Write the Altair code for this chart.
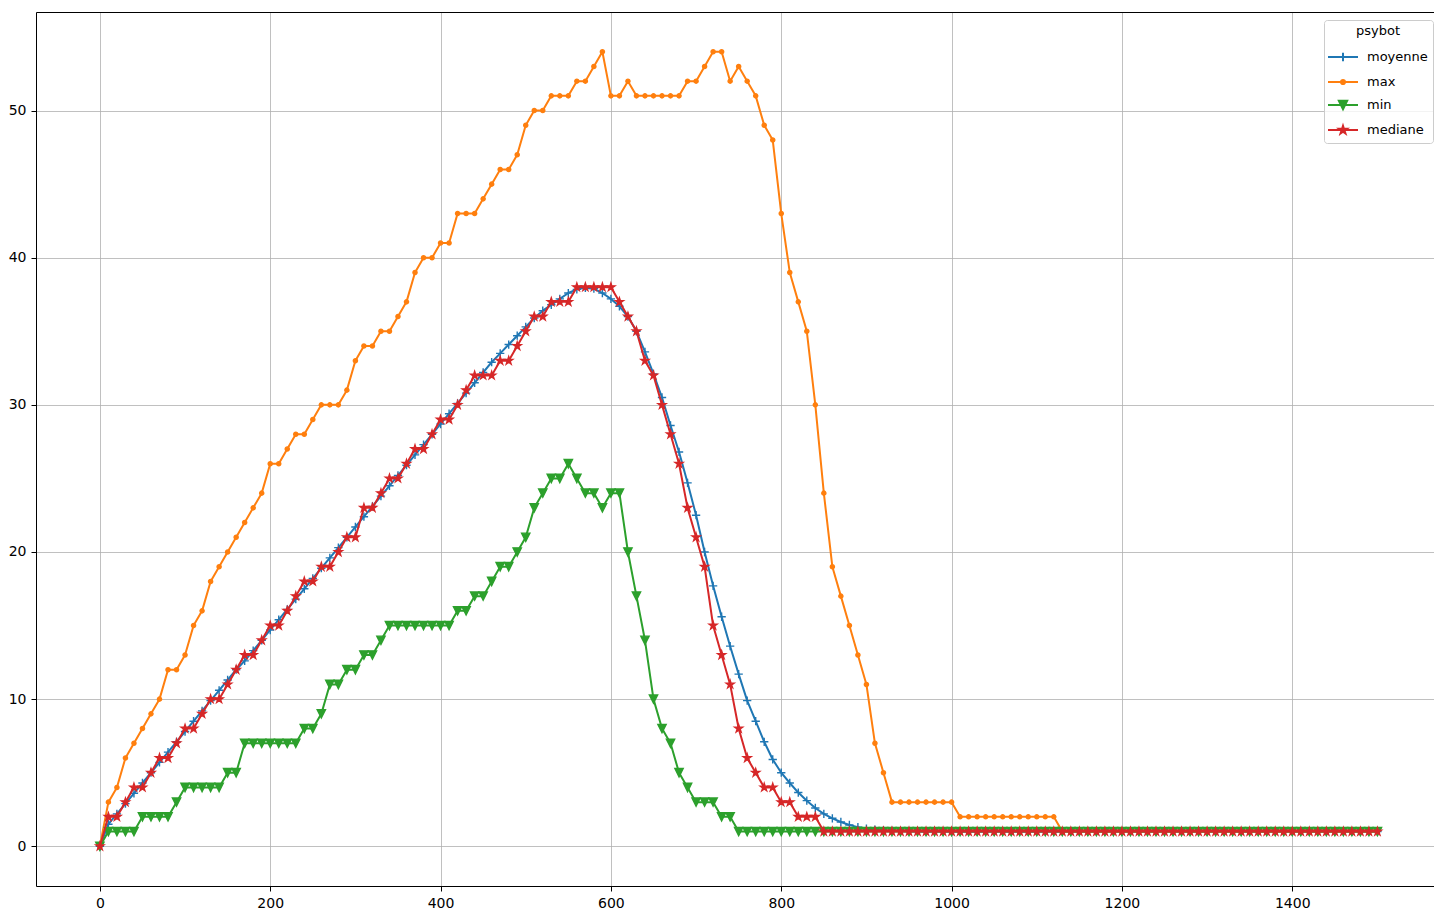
import altair as alt
import pandas as pd

# x positions: one sample every 10 steps
steps = list(range(0, 1501, 10))

series_names = ["moyenne", "max", "min", "mediane"]
series_colors = ["#1f77b4", "#ff7f0e", "#2ca02c", "#d62728"]

moyenne = [
    0.0, 1.5, 2.2, 2.9, 3.6, 4.3, 5.0, 5.7, 6.4, 7.1,
    7.8, 8.5, 9.2, 9.9, 10.6, 11.3, 12.0, 12.6, 13.3, 14.0,
    14.7, 15.4, 16.1, 16.8, 17.5, 18.2, 18.9, 19.6, 20.3, 21.0,
    21.7, 22.4, 23.1, 23.8, 24.5, 25.2, 25.9, 26.6, 27.3, 28.0,
    28.7, 29.4, 30.1, 30.8, 31.5, 32.2, 32.9, 33.5, 34.1, 34.7,
    35.3, 35.9, 36.4, 36.8, 37.2, 37.6, 37.85, 37.95, 37.9, 37.6,
    37.2, 36.7, 36.0, 35.0, 33.6, 32.1, 30.5, 28.6, 26.8, 24.7,
    22.5, 20.0, 17.7, 15.6, 13.6, 11.7, 9.9, 8.5, 7.1, 5.9,
    5.0, 4.3, 3.65, 3.1, 2.6, 2.2, 1.9, 1.65, 1.45, 1.3,
    1.2, 1.13, 1.08, 1.05, 1.03, 1.02, 1.01,
] + [1.0] * 54

maximum = [
    0, 3, 4, 6, 7, 8, 9, 10, 12, 12,
    13, 15, 16, 18, 19, 20, 21, 22, 23, 24,
    26, 26, 27, 28, 28, 29, 30, 30, 30, 31,
    33, 34, 34, 35, 35, 36, 37, 39, 40, 40,
    41, 41, 43, 43, 43, 44, 45, 46, 46, 47,
    49, 50, 50, 51, 51, 51, 52, 52, 53, 54,
    51, 51, 52, 51, 51, 51, 51, 51, 51, 52,
    52, 53, 54, 54, 52, 53, 52, 51, 49, 48,
    43, 39, 37, 35, 30, 24, 19, 17, 15, 13,
    11, 7, 5,
] + [3] * 8 + [2] * 12 + [1] * 38

minimum = [
    0, 1, 1, 1, 1, 2, 2, 2, 2, 3,
    4, 4, 4, 4, 4, 5, 5, 7, 7, 7,
    7, 7, 7, 7, 8, 8, 9, 11, 11, 12,
    12, 13, 13, 14, 15, 15, 15, 15, 15, 15,
    15, 15, 16, 16, 17, 17, 18, 19, 19, 20,
    21, 23, 24, 25, 25, 26, 25, 24, 24, 23,
    24, 24, 20, 17, 14, 10, 8, 7, 5, 4,
    3, 3, 3, 2, 2,
] + [1] * 76

mediane = [
    0, 2, 2, 3, 4, 4, 5, 6, 6, 7,
    8, 8, 9, 10, 10, 11, 12, 13, 13, 14,
    15, 15, 16, 17, 18, 18, 19, 19, 20, 21,
    21, 23, 23, 24, 25, 25, 26, 27, 27, 28,
    29, 29, 30, 31, 32, 32, 32, 33, 33, 34,
    35, 36, 36, 37, 37, 37, 38, 38, 38, 38,
    38, 37, 36, 35, 33, 32, 30, 28, 26, 23,
    21, 19, 15, 13, 11, 8, 6, 5, 4, 4,
    3, 3, 2, 2, 2,
] + [1] * 66

values_by_series = [moyenne, maximum, minimum, mediane]

frames = []
for name, vals in zip(series_names, values_by_series):
    frames.append(pd.DataFrame({"step": steps, "value": vals, "series": name}))
df = pd.concat(frames, ignore_index=True)


def path_from(points, scale=1.0, closed=True):
    pts = ["{:.3f},{:.3f}".format(px * scale, py * scale) for px, py in points]
    return "M" + "L".join(pts) + ("Z" if closed else "")


star_pts = [
    (0, -1), (0.2245, -0.309), (0.951, -0.309), (0.363, 0.118), (0.588, 0.809),
    (0, 0.382), (-0.588, 0.809), (-0.363, 0.118), (-0.951, -0.309), (-0.2245, -0.309),
]
tri_pts = [(-1, -1), (1, -1), (0, 1)]

# marker glyphs for the data points (unit box [-1, 1])
marker_paths = [
    "M-1,0L1,0M0,-1L0,1",
    "M-0.5,0A0.5,0.5,0,1,0,0.5,0A0.5,0.5,0,1,0,-0.5,0Z",
    path_from(tri_pts),
    path_from(star_pts),
]
marker_filled = [False, True, True, True]

# legend glyphs: a short line segment with the marker in its middle
m = 0.415
legend_line = "M-1.5,0L1.5,0"
legend_paths = [
    legend_line + "M0,-{0}L0,{0}".format(m),
    legend_line + "M-{r},0A{r},{r},0,1,0,{r},0A{r},{r},0,1,0,-{r},0Z".format(r=m / 2),
    legend_line + path_from(tri_pts, m),
    legend_line + path_from(star_pts, m),
]

FONT = "DejaVu Sans"
x_scale = alt.Scale(domain=[-75, 1566.4], nice=False, zero=False)
y_scale = alt.Scale(domain=[-2.7, 56.7], nice=False, zero=False)

axis_style = dict(
    grid=True,
    gridColor="#b0b0b0",
    gridWidth=0.8,
    domain=True,
    domainColor="black",
    domainWidth=1,
    ticks=True,
    tickColor="black",
    tickSize=5,
    tickWidth=1,
    labelFont=FONT,
    labelFontSize=14,
    labelColor="black",
    labelPadding=5,
    title=None,
)
x_axis = alt.Axis(values=list(range(0, 1401, 200)), format="d", labelFlush=False, **axis_style)
y_axis = alt.Axis(values=list(range(0, 51, 10)), format="d", **axis_style)

x_enc = alt.X("step:Q", scale=x_scale, axis=x_axis)
y_enc = alt.Y("value:Q", scale=y_scale, axis=y_axis)

base = alt.Chart(df)
layers = []
for name, color, shape, filled in zip(series_names, series_colors, marker_paths, marker_filled):
    sub = base.transform_filter(alt.datum.series == name)
    line = sub.mark_line(color=color, strokeWidth=2, strokeJoin="round").encode(x=x_enc, y=y_enc)
    if filled:
        pts = sub.mark_point(
            shape=shape, filled=True, fill=color, stroke=color,
            strokeWidth=1.4, size=69, opacity=1,
        )
    else:
        pts = sub.mark_point(
            shape=shape, filled=False, stroke=color,
            strokeWidth=1.4, size=69, opacity=1,
        )
    layers += [line, pts.encode(x=x_enc, y=y_enc)]

data_layer = alt.layer(*layers)

legend_def = alt.Legend(
    title="psybot",
    orient="none",
    legendX=1288,
    legendY=8,
    padding=5,
    fillColor="rgba(255,255,255,0.8)",
    strokeColor="#cccccc",
    cornerRadius=3,
    titleAnchor="middle",
    titleFont=FONT,
    titleFontSize=13,
    titleFontWeight="normal",
    titleColor="black",
    titlePadding=8,
    labelFont=FONT,
    labelFontSize=13,
    labelColor="black",
    labelOffset=13,
    symbolOffset=3,
    symbolSize=400,
    symbolStrokeWidth=2,
    rowPadding=5,
)

# key layer: no visible marks, provides the legend and the top frame line
key = (
    base.transform_filter("false")
    .mark_point(filled=True, strokeWidth=2, opacity=1)
    .encode(
        x=alt.X(
            "step:Q",
            scale=x_scale,
            axis=alt.Axis(
                orient="top", labels=False, ticks=False, grid=False,
                domain=True, domainColor="black", domainWidth=1, title=None,
            ),
        ),
        y=y_enc,
        fill=alt.Fill("series:N", scale=alt.Scale(domain=series_names, range=series_colors), legend=legend_def),
        stroke=alt.Stroke("series:N", scale=alt.Scale(domain=series_names, range=series_colors), legend=legend_def),
        shape=alt.Shape("series:N", scale=alt.Scale(domain=series_names, range=legend_paths), legend=legend_def),
    )
)

chart = (
    alt.layer(data_layer, key)
    .resolve_axis(x="independent")
    .properties(
        width=1398,
        height=874,
        autosize=alt.AutoSizeParams(type="none"),
        padding={"left": 36, "top": 12, "right": 0, "bottom": 25},
        background="white",
    )
    .configure_view(stroke=None)
)

chart.save("out.html", embed_options={"renderer": "svg", "actions": False})
